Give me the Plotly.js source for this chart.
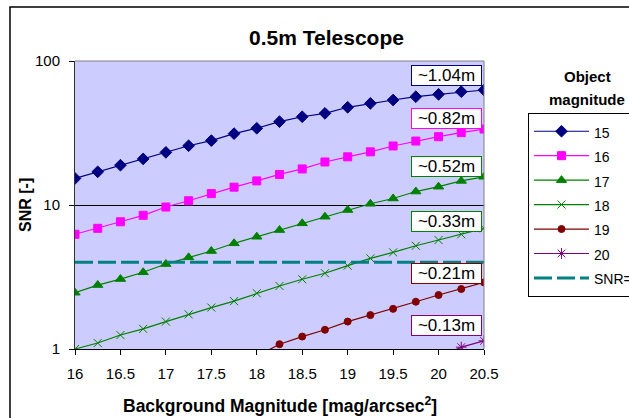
<!DOCTYPE html>
<html>
<head>
<meta charset="utf-8">
<script src="https://cdn.plot.ly/plotly-3.0.1.min.js"></script>
<style>html,body{margin:0;padding:0;background:#fff;}#chart{width:629px;height:418px;}</style>
</head>
<body>
<div id="chart"></div>
<script>
// Background magnitude (x)
const bgMag = [16, 16.25, 16.5, 16.75, 17, 17.25, 17.5, 17.75, 18, 18.25, 18.5, 18.75, 19, 19.25, 19.5, 19.75, 20, 20.25, 20.5];
// SNR per object magnitude
const snr15 = [15.3, 17.0, 18.9, 20.9, 23.2, 25.8, 28.0, 31.3, 34.1, 37.9, 41.0, 43.3, 47.7, 50.8, 53.6, 56.5, 58.7, 61.2, 62.9];
const snr16 = [6.26, 6.89, 7.65, 8.48, 9.68, 10.7, 12.0, 13.3, 14.7, 16.3, 17.8, 19.9, 21.6, 23.4, 25.7, 27.8, 29.8, 31.8, 33.7];
const snr17 = [2.46, 2.78, 3.06, 3.41, 3.89, 4.33, 4.79, 5.42, 6.02, 6.70, 7.46, 8.29, 9.23, 10.2, 11.1, 12.4, 13.4, 14.7, 15.7];
const snr18 = [1.0, 1.10, 1.25, 1.38, 1.55, 1.74, 1.94, 2.15, 2.44, 2.74, 3.05, 3.36, 3.79, 4.26, 4.69, 5.21, 5.71, 6.26, 6.89];
const snr19 = [null, null, null, null, null, null, null, null, 0.89, 1.08, 1.22, 1.36, 1.55, 1.72, 1.90, 2.13, 2.37, 2.61, 2.90];
const snr20 = [null, null, null, null, null, null, null, null, null, null, null, null, null, null, null, null, 0.875, 1.03, 1.14];
const seriesNames = ['15', '16', '17', '18', '19', '20'];
// Threshold line
const snrLimitX = [16, 20.5];
const snrLimitY = [4, 4];
const snrLimitName = 'SNR=4';
// Aperture labels
const apertureLabels = ['~1.04m', '~0.82m', '~0.52m', '~0.33m', '~0.21m', '~0.13m'];
// Axis ticks
const xTicks = [16, 16.5, 17, 17.5, 18, 18.5, 19, 19.5, 20, 20.5];
const yTicks = [1, 10, 100];

const colors = ['#000080', '#FF00FF', '#008000', '#008000', '#800000', '#800080'];
const symbols = ['diamond', 'square', 'triangle-up', 'x-thin-open', 'circle', 'asterisk-open'];
const sizes = [9, 8, 9, 8, 7, 9];
const allY = [snr15, snr16, snr17, snr18, snr19, snr20];

const FONT = 'Arial, "Liberation Sans", sans-serif';
const legendName = n => '<span style="font-size:14px">' + n + '</span>';

const traces = allY.map((ys, i) => ({
  type: 'scatter', mode: 'lines+markers',
  x: bgMag, y: ys, name: legendName(seriesNames[i]),
  line: {color: colors[i], width: 1.2},
  marker: {symbol: symbols[i], size: sizes[i], color: colors[i], line: {color: colors[i], width: 1}},
  connectgaps: false
}));
traces.push({
  type: 'scatter', mode: 'lines', x: snrLimitX, y: snrLimitY, name: legendName(snrLimitName),
  line: {color: '#008080', width: 3, dash: '18px,5px'}
});

const labelY = [0.948, 0.799, 0.632, 0.444, 0.262, 0.080];
const annotations = apertureLabels.map((t, i) => ({
  xref: 'paper', yref: 'paper', x: 1, y: labelY[i], xanchor: 'right', yanchor: 'middle', xshift: -2,
  text: t, showarrow: false, font: {family: FONT, size: 17, color: '#000'},
  bgcolor: '#fff', bordercolor: colors[i], borderwidth: 1, borderpad: 0, width: 69, height: 19
}));
annotations.push(
  {xref: 'paper', yref: 'paper', x: (587 - 75) / 409, y: (349 - 76) / 288, xanchor: 'center', yanchor: 'middle',
   text: 'Object', showarrow: false, font: {family: FONT, size: 15, color: '#000', weight: 700}},
  {xref: 'paper', yref: 'paper', x: (587 - 75) / 409, y: (349 - 99) / 288, xanchor: 'center', yanchor: 'middle',
   text: 'magnitude', showarrow: false, font: {family: FONT, size: 15, color: '#000', weight: 700}},
  {xref: 'paper', yref: 'paper', x: 0.5, y: (349 - 405) / 288, xanchor: 'center', yanchor: 'middle',
   text: 'Background Magnitude [mag/arcsec<sup>2</sup>]', showarrow: false, font: {family: FONT, size: 17.5, color: '#000', weight: 700}},
  {xref: 'paper', yref: 'paper', x: (25 - 75) / 409, y: 0.5, xanchor: 'center', yanchor: 'middle', textangle: -90,
   text: 'SNR [-]', showarrow: false, font: {family: FONT, size: 16, color: '#000', weight: 700}}
);

const layout = {
  width: 629, height: 418,
  margin: {l: 75, r: 145, t: 61, b: 69, pad: 0, autoexpand: false},
  paper_bgcolor: '#ffffff', plot_bgcolor: '#CCCCFF',
  font: {family: FONT, color: '#000'},
  title: {text: '0.5m Telescope', xref: 'paper', x: (326.5 - 75) / 409, xanchor: 'center',
          yref: 'container', y: 1 - 38 / 418, yanchor: 'middle',
          font: {family: FONT, size: 21, color: '#000', weight: 700}},
  xaxis: {range: [16, 20.5], tickvals: xTicks, ticktext: xTicks.map(String), ticks: 'outside', ticklen: 5,
          tickcolor: '#000', showline: true, linecolor: '#000', linewidth: 1, showgrid: false, zeroline: false,
          tickfont: {family: FONT, size: 15, color: '#000'}, ticklabelstandoff: 6},
  yaxis: {type: 'log', range: [0, 2], tickvals: yTicks, ticktext: yTicks.map(String), ticks: 'outside', ticklen: 5,
          tickcolor: '#000', showline: true, linecolor: '#333', linewidth: 1, showgrid: true, gridcolor: '#000', gridwidth: 1,
          zeroline: false, tickfont: {family: FONT, size: 15, color: '#000'}, ticklabelstandoff: 6},
  showlegend: true,
  legend: {x: (528 - 75) / 409, xanchor: 'left', y: (349 - 113) / 288, yanchor: 'top',
           bgcolor: '#fff', bordercolor: '#000', borderwidth: 1, font: {family: FONT, size: 16.5, color: '#000'},
           traceorder: 'normal', itemwidth: 55},
  annotations: annotations,
  shapes: [
    {type: 'line', xref: 'paper', yref: 'paper', x0: 0, x1: 1, y0: 1, y1: 1, line: {color: '#808080', width: 1}, layer: 'above'},
    {type: 'line', xref: 'paper', yref: 'paper', x0: 1, x1: 1, y0: 0, y1: 1, line: {color: '#808080', width: 1}, layer: 'above'},
    {type: 'rect', xref: 'paper', yref: 'paper', x0: (10 - 75) / 409, x1: (660 - 75) / 409, y0: (349 - 440) / 288, y1: (349 - 7) / 288,
     line: {color: '#000', width: 1.5}, fillcolor: 'rgba(0,0,0,0)', layer: 'above'}
  ]
};

Plotly.newPlot('chart', traces, layout, {displayModeBar: false, staticPlot: true});
</script>
</body>
</html>
